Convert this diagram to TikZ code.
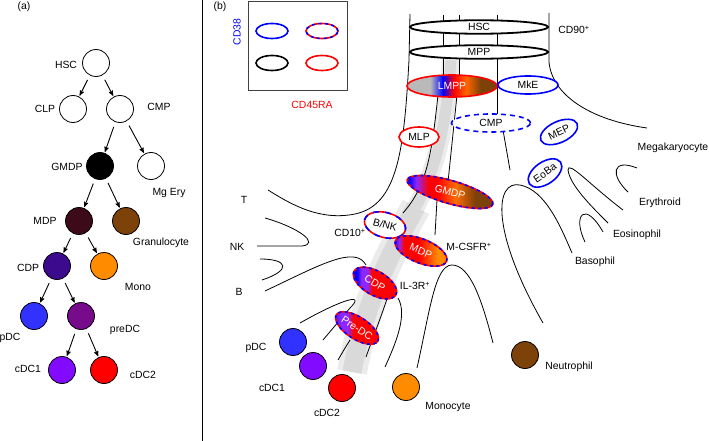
\documentclass[tikz,border=0pt]{standalone}
\usepackage{fontspec}
\setmainfont{Liberation Sans}
\usetikzlibrary{arrows,shapes.geometric}

\definecolor{gran}{RGB}{125,65,10}
\definecolor{mdpcol}{RGB}{60,10,25}
\definecolor{cdpcol}{RGB}{60,10,140}
\definecolor{predccol}{RGB}{120,10,140}
\definecolor{cdcone}{RGB}{130,10,255}
\definecolor{pdccol}{RGB}{50,50,255}
\definecolor{monocol}{RGB}{255,140,0}
\definecolor{dcpurple}{RGB}{140,40,255}

\pgfdeclarehorizontalshading{lmppshade}{100bp}{color(0bp)=(gray!55); color(38bp)=(gray!55); color(45bp)=(blue); color(51bp)=(red); color(58bp)=(orange!80!red); color(66bp)=(gran); color(100bp)=(gran)}
\pgfdeclarehorizontalshading{gmdpshade}{100bp}{color(0bp)=(blue); color(27bp)=(blue); color(31bp)=(dcpurple); color(38bp)=(red); color(43bp)=(red); color(53bp)=(orange!85!red); color(64bp)=(gran); color(100bp)=(gran)}
\pgfdeclarehorizontalshading{mdpshade}{100bp}{color(0bp)=(blue); color(26bp)=(blue); color(30bp)=(dcpurple); color(35bp)=(red); color(48bp)=(red); color(65bp)=(monocol); color(100bp)=(monocol)}
\pgfdeclarehorizontalshading{cdpshade}{100bp}{color(0bp)=(blue); color(31bp)=(blue); color(36bp)=(dcpurple); color(42bp)=(dcpurple); color(47bp)=(red); color(100bp)=(red)}
\pgfdeclarehorizontalshading{predcshade}{100bp}{color(0bp)=(blue!50!dcpurple); color(27bp)=(blue!50!dcpurple); color(33bp)=(dcpurple); color(40bp)=(dcpurple); color(46bp)=(red); color(100bp)=(red)}

\begin{document}
\begin{tikzpicture}[x=1pt,y=-1pt,font=\fontsize{10.4}{12}\selectfont]
		\useasboundingbox (0,0) rectangle (709,441);
		
		\tikzset{cell/.style = {shape=circle,draw,line width=0.8pt,minimum size=27pt,inner sep=0pt}}
		\tikzset{edge/.style = {->,> = stealth',line width=0.9pt,shorten <=5pt,shorten >=1pt}}
		\tikzset{ring/.style = {shape=ellipse,line width=1.6pt,fill=white,inner sep=0pt}}
		\tikzset{rbdash/.style = {draw=red,line width=1.6pt,postaction={draw=blue,line width=1.6pt,dash pattern=on 3pt off 3.5pt}}}
		\tikzset{fate/.style = {line width=0.8pt}}
		
		% panels
		\node (lbla) at (24,7) {(a)};
		\node (lblb) at (220,7) {(b)};
		\draw[line width=0.8pt] (202,0) -- (202,441);
		
		% (a) vertices
		\node[cell] (hsc) at (96,63) {};
		\node[cell] (clp) at (73,109) {};
		\node[cell] (cmp) at (120,109) {};
		\node[cell,fill=black] (gmdp) at (100,166) {};
		\node[cell] (mgery) at (151,166) {};
		\node[cell,fill=mdpcol] (mdp) at (79,221) {};
		\node[cell,fill=gran] (gran) at (126,221) {};
		\node[cell,fill=cdpcol] (cdp) at (57,266) {};
		\node[cell,fill=monocol] (mono) at (104,266) {};
		\node[cell,fill=pdccol] (pdc) at (34,316) {};
		\node[cell,fill=predccol] (predc) at (81,316) {};
		\node[cell,fill=cdcone] (cdc1) at (62,370) {};
		\node[cell,fill=red] (cdc2) at (104,370) {};
		% (a) labels
		\node (hsc-l) at (66,65) {HSC};
		\node (clp-l) at (45,109) {CLP};
		\node (cmp-l) at (159,107) {CMP};
		\node (gmdp-l) at (67,167) {GMDP};
		\node (mgery-l) at (169,193) {Mg Ery};
		\node (mdp-l) at (45,221) {MDP};
		\node (gran-l) at (161,243) {Granulocyte};
		\node (cdp-l) at (28,268) {CDP};
		\node (mono-l) at (138,287) {Mono};
		\node (pdc-l) at (10,338) {pDC};
		\node (predc-l) at (125,330) {preDC};
		\node (cdc1-l) at (28,369) {cDC1};
		\node (cdc2-l) at (143,375) {cDC2};
		% (a) edges
		\draw[edge] (hsc) to (clp);
		\draw[edge] (hsc) to (cmp);
		\draw[edge] (cmp) to (gmdp);
		\draw[edge] (cmp) to (mgery);
		\draw[edge] (gmdp) to (mdp);
		\draw[edge] (gmdp) to (gran);
		\draw[edge] (mdp) to (cdp);
		\draw[edge] (mdp) to (mono);
		\draw[edge] (cdp) to (pdc);
		\draw[edge] (cdp) to (predc);
		\draw[edge] (predc) to (cdc1);
		\draw[edge] (predc) to (cdc2);
		
		% (b) key
		\draw[black!75,line width=0.8pt] (248,1) rectangle (347,90);
		\node[ring,draw=blue,minimum width=32pt,minimum height=15pt] (key-bl) at (272,31) {};
		\node[ring,rbdash,minimum width=32pt,minimum height=15pt] (key-rb) at (322,31) {};
		\node[ring,draw=black,minimum width=32pt,minimum height=15pt] (key-bk) at (272,63) {};
		\node[ring,draw=red,minimum width=32pt,minimum height=15pt] (key-rd) at (322,63) {};
		\node[blue,rotate=90] (cd38) at (237,32) {CD38};
		\node[red] (cd45ra) at (312,105) {CD45RA};
		
		% (b) grey band
		\draw[gray!16,line width=18pt] (451,60) .. controls (446,120) and (440,160) .. (416,207);
		\draw[gray!30,line width=11pt] (451,60) .. controls (446,120) and (440,160) .. (416,207);
		\draw[gray!16,line width=30pt] (416,207) .. controls (395,245) and (365,300) .. (352,372);
		\draw[gray!30,line width=19pt] (416,207) .. controls (395,245) and (365,300) .. (352,372);
		
		% (b) fates
		\draw[fate] (410,14) -- (409,60) .. controls (404,150) and (398,205) .. (355,214) .. controls (320,221) and (292,205) .. (268,190);
		\draw[fate] (443,15) -- (443,80);
		\draw[fate] (459,15) -- (459,80);
		\draw[fate] (497,15) -- (497,115);
		\draw[fate] (549,13) -- (549,62) .. controls (552,95) and (590,120) .. (647,128);
		\draw[fate] (438,95) .. controls (432,150) and (428,185) .. (403,213);
		\draw[fate] (457,95) -- (448,182);
		\draw[fate] (503,130) -- (510,170);
		\draw[fate] (437,200) -- (435,235);
		% lymphoid
		\draw[fate] (265,218) .. controls (300,228) and (320,244) .. (302,246) -- (257,246);
		\draw[fate] (260,259) .. controls (288,259) and (292,270) .. (262,280);
		\draw[fate] (265,291) .. controls (320,265) and (355,245) .. (366,265);
		% dendritic
		\draw[fate] (300,323) .. controls (335,303) and (368,290) .. (350,308) -- (323,340);
		\draw[fate] (350,340) .. controls (345,348) .. (338,360);
		\draw[fate] (388,296) .. controls (380,320) and (372,340) .. (366,357);
		\draw[fate] (398,298) .. controls (408,315) and (395,345) .. (385,367);
		% myeloid
		\draw[fate] (417,368) .. controls (430,310) and (435,265) .. (452,265) .. controls (470,265) and (482,300) .. (493,343);
		\draw[fate] (543,323) .. controls (490,230) and (495,180) .. (520,185) .. controls (545,190) and (560,225) .. (572,253);
		\draw[fate] (585,242) .. controls (572,215) and (585,200) .. (603,232);
		\draw[fate] (623,210) .. controls (590,185) and (568,160) .. (568,170) .. controls (570,185) and (590,205) .. (608,223);
		\draw[fate] (628,192) .. controls (610,175) and (612,158) .. (637,168);
		
		% (b) progenitors
		\node[ring,draw=black,line width=1.8pt,minimum width=138pt,minimum height=13.5pt] (hscb) at (479,27) {HSC};
		\node[ring,draw=black,line width=1.8pt,minimum width=138pt,minimum height=13.5pt] (mppb) at (479,52) {MPP};
		\node[ring,draw=red,shading=lmppshade,text=white,minimum width=90pt,minimum height=22pt] (lmpp) at (452,86) {LMPP};
		\node[ring,draw=blue,minimum width=60pt,minimum height=18pt] (mke) at (528,85) {MkE};
		\node[ring,draw=blue,dash pattern=on 5pt off 4pt,minimum width=79pt,minimum height=18pt] (cmpb) at (491,123) {CMP};
		\node[ring,draw=red,minimum width=40pt,minimum height=20pt] (mlp) at (419,137) {MLP};
		\node[ring,draw=blue,rotate=25,minimum width=40pt,minimum height=21pt] (mep) at (559,132) {MEP};
		\node[ring,draw=blue,rotate=35,minimum width=38pt,minimum height=22pt] (eoba) at (545,173) {EoBa};
		\node[ring,rbdash,shading=gmdpshade,text=white,rotate=-16,minimum width=89pt,minimum height=23pt] (gmdpb) at (450,192) {GMDP};
		\node[ring,draw=red,line width=1.6pt,postaction={draw=blue,line width=1.6pt,dash pattern=on 6pt off 6pt},rotate=-15,minimum width=42pt,minimum height=25pt] (bnk) at (385,225) {B/NK};
		\node[ring,rbdash,shading=mdpshade,text=white,rotate=-22,minimum width=55pt,minimum height=24pt] (mdpb) at (421,251) {MDP};
		\node[ring,rbdash,shading=cdpshade,text=white,rotate=-30,minimum width=48pt,minimum height=24pt] (cdpb) at (375,283) {CDP};
		\node[ring,rbdash,shading=predcshade,text=white,rotate=-33,minimum width=41pt,minimum height=22pt] (predcb) at (357,328) {Pre-DC};
		
		% (b) mature cells
		\node[cell,fill=pdccol] (pdcb) at (293,342) {};
		\node[cell,fill=cdcone] (cdc1b) at (313,366) {};
		\node[cell,fill=red] (cdc2b) at (342,388) {};
		\node[cell,fill=monocol] (monob) at (406,387) {};
		\node[cell,fill=gran] (neut) at (525,355) {};
		
		% (b) labels
		\node (cd90) at (574,30) {CD90\textsuperscript{+}};
		\node (cd10) at (350,233) {CD10\textsuperscript{+}};
		\node (mcsfr) at (469,247) {M-CSFR\textsuperscript{+}};
		\node (il3r) at (415,286) {IL-3R\textsuperscript{+}};
		\node (t-l) at (244,200) {T};
		\node (nk-l) at (237,247) {NK};
		\node (b-l) at (239,292) {B};
		\node (pdcb-l) at (256,348) {pDC};
		\node (cdc1b-l) at (272,388) {cDC1};
		\node (cdc2b-l) at (327,413) {cDC2};
		\node (monob-l) at (448,407) {Monocyte};
		\node (neut-l) at (569,367) {Neutrophil};
		\node (baso-l) at (595,262) {Basophil};
		\node (eos-l) at (637,235) {Eosinophil};
		\node (ery-l) at (660,203) {Erythroid};
		\node (mk-l) at (673,148) {Megakaryocyte};
		\end{tikzpicture}
\end{document}
